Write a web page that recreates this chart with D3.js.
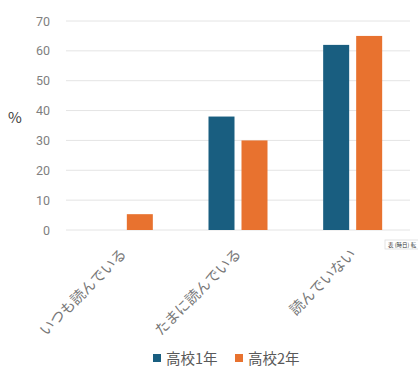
<!DOCTYPE html>
<html><head><meta charset="utf-8">
<script src="https://cdn.jsdelivr.net/npm/d3@7"></script>
<style>
html,body{margin:0;padding:0;background:#fff;}
text{font-family:"Noto Sans CJK JP","Noto Sans",sans-serif;}
</style></head>
<body>
<svg id="c" width="418" height="374"></svg>
<script>
const categories = ["いつも読んでいる", "たまに読んでいる", "読んでいない"];
const seriesNames = ["高校1年", "高校2年"];
const grade1 = [0, 38, 62];
const grade2 = [5.3, 30, 65];
const yTicks = [0, 10, 20, 30, 40, 50, 60, 70];
const colors = ["#195E80", "#E8722F"];

(function(){
const svg = d3.select("#c");
const pl = 66, pr = 410, pt = 21, pb = 230;
const x = d3.scaleBand().domain(categories).range([pl, pr]).paddingInner(0).paddingOuter(0);
const y = d3.scaleLinear().domain([0, 70]).range([pb, pt]);

// gridlines
svg.append("g").selectAll("line").data(yTicks).join("line")
  .attr("x1", pl).attr("x2", pr)
  .attr("y1", d => y(d)).attr("y2", d => y(d))
  .attr("stroke", "#e4e4e4").attr("stroke-width", 1);

// y axis labels
const yAxis = d3.axisLeft(y).tickValues(yTicks).tickSize(0).tickPadding(0);
const gy = svg.append("g").attr("transform", `translate(${pl - 16},0)`).call(yAxis);
gy.select(".domain").remove();
gy.selectAll("text").attr("fill", "#7f7f7f").attr("font-size", 12.5)
  .style("font-family", "Roboto, 'Noto Sans', sans-serif");

svg.append("text").attr("x", 15).attr("y", 123).attr("text-anchor", "middle")
  .attr("font-size", 15).attr("fill", "#404040").text("%");

// bars
const barW = 26, gap = 7;
const data = [grade1, grade2];
data.forEach((vals, si) => {
  svg.append("g").selectAll("rect").data(vals.map((v, i) => ({c: categories[i], v}))).join("rect")
    .attr("x", d => x(d.c) + x.bandwidth() / 2 - (barW * 2 + gap) / 2 + si * (barW + gap))
    .attr("width", barW)
    .attr("y", d => y(d.v))
    .attr("height", d => y(0) - y(d.v))
    .attr("fill", colors[si]);
});

// x labels rotated
const gx = svg.append("g");
categories.forEach(c => {
  const cx = x(c) + x.bandwidth() / 2 + 4;
  gx.append("text")
    .attr("transform", `translate(${cx},${pb + 25}) rotate(-45)`)
    .attr("text-anchor", "end")
    .attr("font-size", 14.5).attr("fill", "#777")
    .text(c);
});

// small tooltip artifact
const tip = svg.append("g");
tip.append("rect").attr("x", 385).attr("y", 240).attr("width", 40).attr("height", 9)
  .attr("fill", "#fff").attr("stroke", "#ddd").attr("stroke-width", 0.8);
tip.append("text").attr("x", 388).attr("y", 247).attr("font-size", 5.5).attr("fill", "#333").text("表 (時日) 転");

// legend
const lg = svg.append("g");
const lx = [153, 235];
seriesNames.forEach((s, i) => {
  lg.append("rect").attr("x", lx[i]).attr("y", 354).attr("width", 8).attr("height", 8).attr("fill", colors[i]);
  lg.append("text").attr("x", lx[i] + 13).attr("y", 364).attr("font-size", 14.5).attr("fill", "#595959").text(s);
});
})();
</script>
</body></html>
